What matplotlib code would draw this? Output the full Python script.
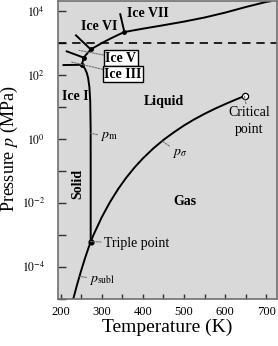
import numpy as np
import matplotlib
matplotlib.use("Agg")
import matplotlib.pyplot as plt
from matplotlib.ticker import FixedLocator, FuncFormatter

plt.rcParams['font.family'] = ['Liberation Serif', 'DejaVu Serif']
plt.rcParams['mathtext.fontset'] = 'stix'
plt.rcParams['axes.unicode_minus'] = False

# sublimation curve (K, MPa)
T_subl = [228, 230, 240, 250, 260, 270, 273.16]
p_subl = [7.0e-6, 9.0e-6, 2.73e-5, 7.6e-5, 1.96e-4, 4.70e-4, 6.12e-4]

# vapour pressure curve
T_vap = [273.16, 280, 300, 320, 340, 360, 380, 400, 425, 450, 475, 500,
         525, 550, 575, 600, 625, 647.1]
p_vap = [6.12e-4, 9.92e-4, 3.54e-3, 1.055e-2, 2.72e-2, 6.22e-2, 0.129,
         0.246, 0.500, 0.932, 1.60, 2.64, 4.10, 6.11, 8.80, 12.3, 16.9, 22.06]

# melting curve: ice I, III, V, VI, VII
T_melt = [273.16, 273.15, 273.0, 272.0, 270.0, 267.0, 264.0, 260.0, 256.0,
          251.165, 254.0, 256.164, 265.0, 273.31, 300, 320, 340, 355,
          400, 450, 500, 550, 600, 650, 700, 710]
p_melt = [6.12e-4, 0.101, 2.2, 15.5, 42, 80, 113, 150, 183,
          208.6, 268.7, 350.1, 479.7, 632.4, 996, 1357, 1808, 2216,
          2818, 3618, 4696, 6309, 8970, 13430, 19400, 20370]

# solid-solid boundaries
T_I_III = [207, 251.165]
p_I_III = [205, 208.6]
T_III_V = [215, 256.164]
p_III_V = [550, 350.1]
T_V_VI = [237.5, 273.31]
p_V_VI = [1740, 632.4]
T_VI_VII = [345, 355]
p_VI_VII = [8000, 2216]

T_tp = [251.165, 256.164, 273.31, 355]
p_tp = [208.6, 350.1, 632.4, 2216]

T_triple, p_triple = 273.16, 6.12e-4
T_crit, p_crit = 647.1, 22.06

fig = plt.figure(figsize=(2.78, 3.46), dpi=100)
ax = fig.add_axes([0.2076, 0.1367, 0.7888, 0.859])
ax.set_facecolor('#d9d9d9')
for s in ax.spines.values():
    s.set_color('#707070')
    s.set_linewidth(1.2)

lw = 1.4
ax.plot(T_subl, p_subl, color='black', lw=lw)
ax.plot(T_vap, p_vap, color='black', lw=lw)
ax.plot(T_melt, p_melt, color='black', lw=lw)
for tt, pp in [(T_I_III, p_I_III), (T_III_V, p_III_V), (T_V_VI, p_V_VI), (T_VI_VII, p_VI_VII)]:
    ax.plot(tt, pp, color='black', lw=lw)
ax.plot(T_tp, p_tp, 'o', color='black', ms=2.5)
ax.plot(T_triple, p_triple, 'o', color='black', ms=3.5)
ax.plot(T_crit, p_crit, 'o', mfc='white', mec='black', ms=4.5, mew=0.9)
ax.axhline(1000, color='black', lw=1.2, ls=(0, (5, 3.5)))

ax.set_yscale('log')
ax.set_xlim(193, 726)
ax.set_ylim(1e-5, 2e4)

ax.xaxis.set_major_locator(FixedLocator([200, 300, 400, 500, 600, 700]))
ax.xaxis.set_minor_locator(FixedLocator([250, 350, 450, 550, 650]))
dec = [10.0**k for k in range(-5, 5)]
ax.yaxis.set_major_locator(FixedLocator(dec))
ax.yaxis.set_minor_locator(FixedLocator([]))
ax.yaxis.set_major_formatter(FuncFormatter(
    lambda v, pos: r'$10^{%d}$' % round(np.log10(v)) if round(np.log10(v)) % 2 == 0 else ''))
ax.tick_params(axis='y', which='both', direction='in', length=6, width=1, color='#303030',
               labelsize=8.5, pad=9)
ax.tick_params(axis='x', which='both', direction='in', length=3.5, width=1, color='#303030',
               labelsize=9, pad=5)

ax.set_xlabel('Temperature (K)', fontsize=14, labelpad=1)
fig.text(0.035, 0.57, 'Pressure $p$ (MPa)', rotation=90, fontsize=13,
         ha='center', va='center')

bold = dict(fontsize=10, fontweight='bold', ha='center', va='center')
ax.text(413, 8300, 'Ice VII', **bold)
ax.text(293, 3300, 'Ice VI', **bold)
ax.text(235, 21, 'Ice I', **bold)
ax.text(450, 15, 'Liquid', **bold)
ax.text(502, 0.0107, 'Gas', **bold)
ax.text(241, 0.038, 'Solid', rotation=90, **bold)

lead = dict(arrowstyle='-', color='#707070', lw=0.8, ls=(0, (1.5, 1.2)), shrinkA=0, shrinkB=0)
box = dict(boxstyle='square,pad=0.1', fc='white', ec='black', lw=1)
ax.annotate('Ice V', xy=(245, 590), xytext=(346, 335), ha='center', va='center',
            fontsize=10, fontweight='bold', bbox=box, arrowprops=lead)
ax.annotate('Ice III', xy=(225, 257), xytext=(352, 107), ha='center', va='center',
            fontsize=10, fontweight='bold', bbox=box, arrowprops=lead)

ax.annotate('Triple point', xy=(T_triple, p_triple), xytext=(305, 5.5e-4),
            ha='left', va='center', fontsize=10, arrowprops=lead)
ax.annotate('Critical\npoint', xy=(T_crit, p_crit), xytext=(658, 3.6),
            ha='center', va='center', fontsize=10, linespacing=1.35, arrowprops=lead)
ax.annotate(r'$p_{\mathrm{m}}$', xy=(273.2, 1.5), xytext=(296, 1.15),
            ha='left', va='center', fontsize=10, arrowprops=lead)
ax.annotate(r'$p_{\sigma}$', xy=(446, 0.87), xytext=(471, 0.36),
            ha='left', va='center', fontsize=10, arrowprops=lead)
ax.annotate(r'$p_{\mathrm{subl}}$', xy=(247, 5.0e-5), xytext=(269, 3.8e-5),
            ha='left', va='center', fontsize=10, arrowprops=lead)

fig.savefig('out.png', dpi=100)
